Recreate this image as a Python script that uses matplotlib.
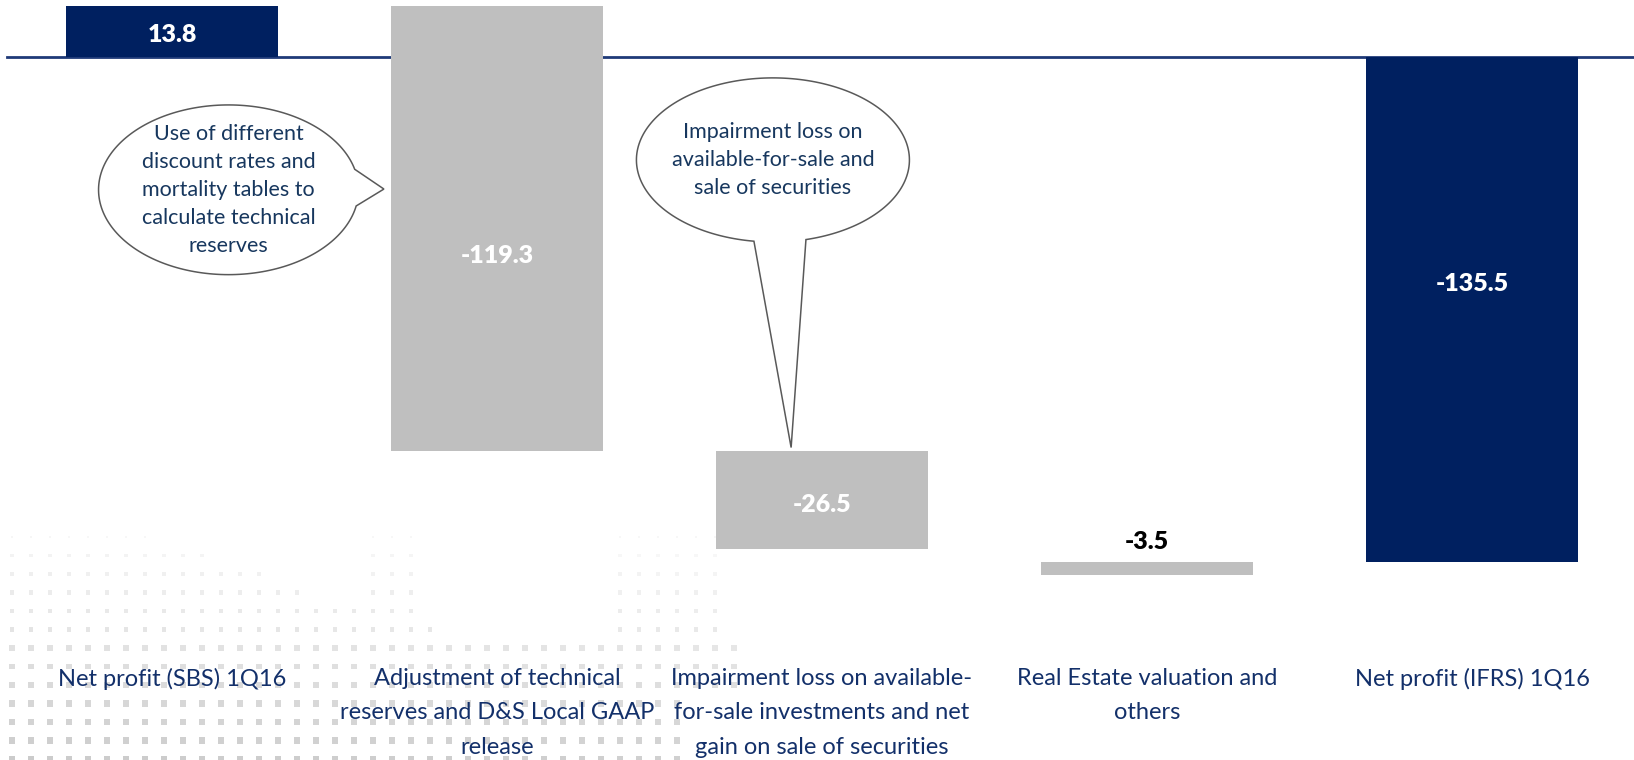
import numpy as np
import matplotlib
matplotlib.use("Agg")
import matplotlib.pyplot as plt
from matplotlib.patches import Polygon

# Bridge from local GAAP net profit to IFRS net profit, 1Q16 (S/. millions)
categories = [
    "Net profit (SBS) 1Q16",
    "Adjustment of technical\nreserves and D&S Local GAAP\nrelease",
    "Impairment loss on available-\nfor-sale investments and net\ngain on sale of securities",
    "Real Estate valuation and\nothers",
    "Net profit (IFRS) 1Q16",
]
net_sbs = 13.8
adjustments = [-119.3, -26.5, -3.5]
net_ifrs = -135.5

NAVY = "#002060"
GREY = "#BFBFBF"
TEXT = "#13306A"

plt.rcParams["font.family"] = ["Lato", "DejaVu Sans"]

W, H = 1634, 760
fig = plt.figure(figsize=(W / 100, H / 100), dpi=100)

# dotted background in the lower left corner
bg = fig.add_axes([0, 0, 1, 1], zorder=0)
bg.set_xlim(0, W)
bg.set_ylim(H, 0)
bg.axis("off")
left_cut = [155, 205, 270, 300, 395, 440]
dx, dy, shade, size = [], [], [], []
for j in range(13):
    y = 537 + 18.5 * j
    for i in range(39):
        x = 12 + 19 * i
        if j < len(left_cut):
            in_block = x < left_cut[j] or 365 < x < 420 or 610 < x < 730
            if not in_block:
                continue
        if j >= 9 and x > 680:
            continue
        dx.append(x)
        dy.append(y)
        shade.append(min(0.97, 0.965 - 0.014 * j + 0.02 * x / 730))
        size.append(4 + 1.7 * j)
bg.scatter(dx, dy, s=size, marker="s", c=[(g, g, g) for g in shade], linewidths=0)

ax = fig.add_axes([0, 1 - 640 / H, 1, 640 / H], zorder=1)
ax.patch.set_alpha(0)
px_per_unit = 3.73
ax.set_xlim(-172 / 325, (W - 172) / 325)
ax.set_ylim(-(640 - 57) / px_per_unit, 57 / px_per_unit)

running = net_sbs + np.cumsum(adjustments)
heights = [net_sbs] + adjustments + [net_ifrs]
bottoms = [0, net_sbs, running[0], net_ifrs, 0]
colors = [NAVY, GREY, GREY, GREY, NAVY]
label_nudge = [-4, -28, -5, 0, 26]  # px, vertical shift of the value labels
x = np.arange(len(categories))

ax.axhline(0, xmin=7 / W, xmax=1, color="#1F3A78", lw=2, zorder=1)
ax.bar(x, heights, bottom=bottoms, width=0.65, color=colors, zorder=2)

for i, (h, b) in enumerate(zip(heights, bottoms)):
    label = f"{h:.1f}"
    if abs(h) < 10:
        ax.annotate(label, (i, b), xytext=(0, 7), textcoords="offset points",
                    ha="center", va="bottom", fontsize=18, fontweight="heavy",
                    color="black")
    else:
        ax.annotate(label, (i, b + h / 2), xytext=(0, label_nudge[i] * 0.72),
                    textcoords="offset points", ha="center", va="center",
                    fontsize=18, fontweight="heavy", color="white", zorder=3)

ax.set_xticks(x)
ax.set_xticklabels(categories, fontsize=17, color=TEXT, linespacing=1.8)
ax.tick_params(axis="x", length=0, pad=20)
ax.set_yticks([])
for s in ax.spines.values():
    s.set_visible(False)


def bubble(cx, cy, w, h, a_lo, a_hi, tip, text):
    t = np.radians(np.linspace(a_hi, a_lo + 360, 200))
    pts = np.column_stack([cx + w / 2 * np.cos(t), cy + h / 2 * np.sin(t)])
    pts = np.vstack([pts, tip])
    ax.add_patch(Polygon(pts, closed=True, facecolor="white",
                         edgecolor="#595959", lw=1.1, zorder=4))
    ax.text(cx, cy, text, ha="center", va="center", fontsize=15.5,
            color="#17375E", linespacing=1.5, zorder=5)


bubble(0.174, -35.6, 0.80, 45.5, -11, 14, (0.652, -35.4),
       "Use of different\ndiscount rates and\nmortality tables to\ncalculate technical\nreserves")
bubble(1.849, -27.6, 0.84, 44, -98, -76, (1.905, running[0] + 0.8),
       "Impairment loss on\navailable-for-sale and\nsale of securities")

fig.savefig("out.png", dpi=100)
